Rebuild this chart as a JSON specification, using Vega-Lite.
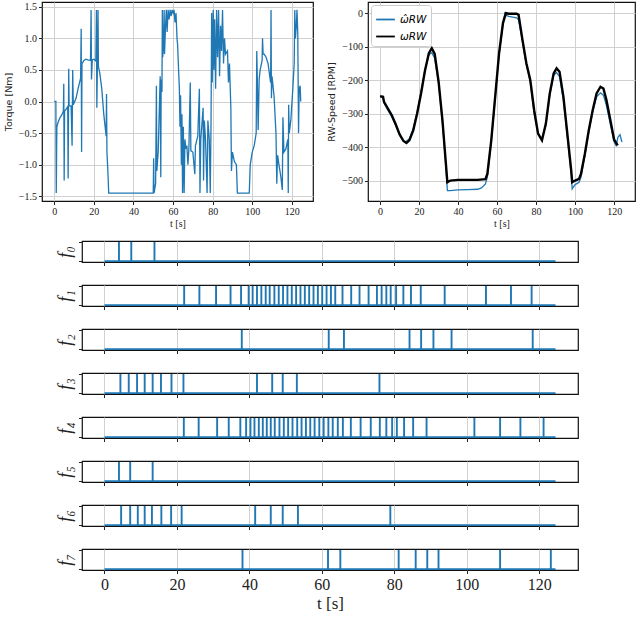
{
  "$schema": "https://vega.github.io/schema/vega-lite/v6.json",
  "padding": {"left": 2, "top": 1, "right": 1, "bottom": 2},
  "background": "white",
  "datasets": {
    "torque": [
      {"t":0,"v":0},{"t":0.8,"v":0},{"t":1.0,"v":-1.45},{"t":1.3,"v":-0.4},{"t":2,"v":-0.32},{"t":3,"v":-0.25},{"t":4,"v":-0.2},{"t":4.6,"v":-0.15},{"t":4.8,"v":0.28},{"t":5.0,"v":-1.25},{"t":5.2,"v":-0.15},{"t":6,"v":-0.12},{"t":6.8,"v":-0.08},{"t":7.0,"v":-1.22},{"t":7.3,"v":0.52},{"t":7.5,"v":-0.07},{"t":8.5,"v":-0.07},{"t":9.0,"v":-0.7},{"t":9.3,"v":0.5},{"t":9.6,"v":-0.05},{"t":11,"v":0.05},{"t":12,"v":0.2},{"t":13.3,"v":0.37},{"t":13.6,"v":1.15},{"t":13.8,"v":-0.8},{"t":14.0,"v":0.6},{"t":15,"v":0.65},{"t":16,"v":0.67},{"t":17,"v":0.66},{"t":18.3,"v":0.65},{"t":18.6,"v":1.45},{"t":18.8,"v":0.35},{"t":19.2,"v":0.66},{"t":20,"v":0.67},{"t":21,"v":0.64},{"t":21.3,"v":1.45},{"t":21.5,"v":-0.1},{"t":21.8,"v":0.6},{"t":22.1,"v":1.45},{"t":22.3,"v":0.55},{"t":23,"v":0.45},{"t":24,"v":0.2},{"t":25,"v":-0.2},{"t":26.2,"v":-0.55},{"t":26.4,"v":0.12},{"t":26.6,"v":-0.8},{"t":27.0,"v":-1.05},{"t":27.5,"v":-1.45},{"t":50.0,"v":-1.45},{"t":50.2,"v":-0.9},{"t":50.4,"v":-1.45},{"t":51.2,"v":-1.3},{"t":51.6,"v":0.25},{"t":51.8,"v":-1.1},{"t":52.5,"v":-0.8},{"t":53.0,"v":-0.2},{"t":53.5,"v":0.4},{"t":53.8,"v":-1.2},{"t":54.0,"v":0.35},{"t":54.4,"v":0.15},{"t":54.6,"v":1.45},{"t":54.8,"v":0.7},{"t":55.2,"v":0.9},{"t":55.5,"v":1.45},{"t":55.7,"v":0.75},{"t":56.2,"v":1.2},{"t":56.6,"v":1.45},{"t":57,"v":1.1},{"t":57.5,"v":1.45},{"t":58,"v":1.3},{"t":58.5,"v":1.45},{"t":59,"v":1.35},{"t":59.5,"v":1.45},{"t":60,"v":1.4},{"t":60.5,"v":1.45},{"t":61,"v":1.25},{"t":61.5,"v":1.4},{"t":62,"v":1.0},{"t":62.3,"v":0.9},{"t":62.8,"v":0.5},{"t":63.2,"v":0.2},{"t":63.5,"v":-0.4},{"t":63.8,"v":0.1},{"t":64.2,"v":-1.0},{"t":64.5,"v":-0.2},{"t":64.8,"v":-1.45},{"t":65.2,"v":-0.4},{"t":65.6,"v":-1.45},{"t":66.0,"v":-0.6},{"t":66.5,"v":-0.75},{"t":67,"v":-0.7},{"t":67.5,"v":-1.0},{"t":68,"v":-0.75},{"t":68.7,"v":0.3},{"t":69,"v":-0.78},{"t":70,"v":-0.8},{"t":71,"v":-1.15},{"t":71.3,"v":-0.7},{"t":72.5,"v":-0.55},{"t":73.3,"v":0.2},{"t":73.6,"v":-1.45},{"t":74,"v":-0.6},{"t":75.2,"v":-0.1},{"t":75.4,"v":-1.25},{"t":75.8,"v":-0.3},{"t":76.4,"v":-0.6},{"t":77.2,"v":-1.45},{"t":77.6,"v":-0.3},{"t":78.3,"v":-0.6},{"t":78.8,"v":-1.45},{"t":79.2,"v":-0.3},{"t":79.5,"v":1.4},{"t":79.8,"v":0.3},{"t":80.3,"v":1.45},{"t":80.6,"v":0.5},{"t":81,"v":1.3},{"t":81.5,"v":0.2},{"t":82,"v":1.45},{"t":82.5,"v":0.7},{"t":83,"v":1.45},{"t":83.5,"v":0.4},{"t":84,"v":1.2},{"t":84.5,"v":0.8},{"t":85,"v":1.45},{"t":85.5,"v":0.6},{"t":86,"v":1.0},{"t":86.5,"v":0.75},{"t":87.5,"v":0.8},{"t":88,"v":0.3},{"t":88.5,"v":0.6},{"t":89.2,"v":-0.1},{"t":89.5,"v":-1.1},{"t":90,"v":-0.8},{"t":91,"v":-0.95},{"t":92,"v":-1.0},{"t":92.5,"v":-1.45},{"t":98.5,"v":-1.45},{"t":99,"v":-1.0},{"t":100,"v":-0.8},{"t":101,"v":-0.7},{"t":102,"v":-0.5},{"t":102.3,"v":0.8},{"t":102.6,"v":0.3},{"t":103,"v":-0.45},{"t":103.5,"v":0.35},{"t":104,"v":0.5},{"t":105,"v":0.65},{"t":105.2,"v":1.0},{"t":105.5,"v":0.75},{"t":106,"v":0.75},{"t":107,"v":0.7},{"t":108,"v":0.6},{"t":109.3,"v":0.3},{"t":109.5,"v":1.45},{"t":109.7,"v":0.05},{"t":110,"v":0.4},{"t":111,"v":0.1},{"t":112,"v":-0.5},{"t":112.4,"v":-1.3},{"t":112.8,"v":-0.85},{"t":113.5,"v":-1.0},{"t":114.5,"v":-1.2},{"t":115.2,"v":-1.4},{"t":115.5,"v":-0.25},{"t":116,"v":-0.8},{"t":117,"v":-0.75},{"t":118,"v":-0.6},{"t":118.2,"v":-1.45},{"t":118.4,"v":-0.05},{"t":118.7,"v":-0.5},{"t":119.5,"v":-0.3},{"t":120.5,"v":0.2},{"t":121.2,"v":0.6},{"t":121.5,"v":1.45},{"t":121.8,"v":1.0},{"t":122.3,"v":1.2},{"t":122.6,"v":1.45},{"t":123,"v":1.1},{"t":123.4,"v":-0.5},{"t":123.7,"v":0.2},{"t":124.2,"v":0.25},{"t":124.5,"v":0.0}
    ],
    "speed": [
      {"s":"ω̂RW","t":0,"v":-250},{"s":"ω̂RW","t":1.5,"v":-252},{"s":"ω̂RW","t":2,"v":-268},{"s":"ω̂RW","t":4,"v":-290},{"s":"ω̂RW","t":6,"v":-310},{"s":"ω̂RW","t":8,"v":-335},{"s":"ω̂RW","t":10,"v":-365},{"s":"ω̂RW","t":12,"v":-382},{"s":"ω̂RW","t":13,"v":-385},{"s":"ω̂RW","t":15,"v":-375},{"s":"ω̂RW","t":17,"v":-345},{"s":"ω̂RW","t":19,"v":-295},{"s":"ω̂RW","t":21,"v":-235},{"s":"ω̂RW","t":23,"v":-170},{"s":"ω̂RW","t":25,"v":-125},{"s":"ω̂RW","t":26.5,"v":-118},{"s":"ω̂RW","t":28,"v":-135},{"s":"ω̂RW","t":30,"v":-210},{"s":"ω̂RW","t":32,"v":-330},{"s":"ω̂RW","t":33.5,"v":-440},{"s":"ω̂RW","t":34.5,"v":-530},{"s":"ω̂RW","t":36,"v":-530},{"s":"ω̂RW","t":40,"v":-528},{"s":"ω̂RW","t":45,"v":-527},{"s":"ω̂RW","t":50,"v":-526},{"s":"ω̂RW","t":52,"v":-522},{"s":"ω̂RW","t":54,"v":-510},{"s":"ω̂RW","t":55,"v":-490},{"s":"ω̂RW","t":57,"v":-385},{"s":"ω̂RW","t":59,"v":-255},{"s":"ω̂RW","t":61,"v":-125},{"s":"ω̂RW","t":63,"v":-35},{"s":"ω̂RW","t":64,"v":0},{"s":"ω̂RW","t":65,"v":-8},{"s":"ω̂RW","t":66,"v":-10},{"s":"ω̂RW","t":68,"v":-12},{"s":"ω̂RW","t":70,"v":-14},{"s":"ω̂RW","t":71,"v":-20},{"s":"ω̂RW","t":73,"v":-85},{"s":"ω̂RW","t":75,"v":-155},{"s":"ω̂RW","t":77,"v":-205},{"s":"ω̂RW","t":79,"v":-300},{"s":"ω̂RW","t":81,"v":-362},{"s":"ω̂RW","t":82,"v":-368},{"s":"ω̂RW","t":83,"v":-375},{"s":"ω̂RW","t":85,"v":-335},{"s":"ω̂RW","t":87,"v":-245},{"s":"ω̂RW","t":89,"v":-185},{"s":"ω̂RW","t":90.5,"v":-178},{"s":"ω̂RW","t":92,"v":-190},{"s":"ω̂RW","t":94,"v":-260},{"s":"ω̂RW","t":96,"v":-370},{"s":"ω̂RW","t":98,"v":-480},{"s":"ω̂RW","t":98.5,"v":-525},{"s":"ω̂RW","t":99,"v":-520},{"s":"ω̂RW","t":100,"v":-512},{"s":"ω̂RW","t":102,"v":-505},{"s":"ω̂RW","t":103,"v":-490},{"s":"ω̂RW","t":105,"v":-425},{"s":"ω̂RW","t":107,"v":-355},{"s":"ω̂RW","t":109,"v":-295},{"s":"ω̂RW","t":111,"v":-250},{"s":"ω̂RW","t":113,"v":-238},{"s":"ω̂RW","t":114.5,"v":-245},{"s":"ω̂RW","t":116,"v":-275},{"s":"ω̂RW","t":118,"v":-330},{"s":"ω̂RW","t":120,"v":-385},{"s":"ω̂RW","t":121,"v":-395},{"s":"ω̂RW","t":122,"v":-370},{"s":"ω̂RW","t":123,"v":-363},{"s":"ω̂RW","t":124,"v":-385},
      {"s":"ωRW","t":0,"v":-248},{"s":"ωRW","t":1.5,"v":-250},{"s":"ωRW","t":2,"v":-265},{"s":"ωRW","t":4,"v":-285},{"s":"ωRW","t":6,"v":-305},{"s":"ωRW","t":8,"v":-332},{"s":"ωRW","t":10,"v":-362},{"s":"ωRW","t":12,"v":-382},{"s":"ωRW","t":13.5,"v":-388},{"s":"ωRW","t":15,"v":-380},{"s":"ωRW","t":17,"v":-350},{"s":"ωRW","t":19,"v":-300},{"s":"ωRW","t":21,"v":-240},{"s":"ωRW","t":23,"v":-172},{"s":"ωRW","t":25,"v":-120},{"s":"ωRW","t":26.5,"v":-105},{"s":"ωRW","t":28,"v":-122},{"s":"ωRW","t":30,"v":-205},{"s":"ωRW","t":32,"v":-322},{"s":"ωRW","t":33.5,"v":-432},{"s":"ωRW","t":34.5,"v":-505},{"s":"ωRW","t":36,"v":-500},{"s":"ωRW","t":40,"v":-498},{"s":"ωRW","t":45,"v":-498},{"s":"ωRW","t":50,"v":-498},{"s":"ωRW","t":54,"v":-496},{"s":"ωRW","t":55,"v":-480},{"s":"ωRW","t":57,"v":-380},{"s":"ωRW","t":59,"v":-250},{"s":"ωRW","t":61,"v":-120},{"s":"ωRW","t":63,"v":-30},{"s":"ωRW","t":64.5,"v":0},{"s":"ωRW","t":66,"v":-2},{"s":"ωRW","t":70,"v":-2},{"s":"ωRW","t":71,"v":-5},{"s":"ωRW","t":73,"v":-80},{"s":"ωRW","t":75,"v":-150},{"s":"ωRW","t":77,"v":-200},{"s":"ωRW","t":79,"v":-290},{"s":"ωRW","t":81,"v":-360},{"s":"ωRW","t":83,"v":-380},{"s":"ωRW","t":85,"v":-330},{"s":"ωRW","t":87,"v":-240},{"s":"ωRW","t":89,"v":-180},{"s":"ωRW","t":90.5,"v":-165},{"s":"ωRW","t":92,"v":-175},{"s":"ωRW","t":94,"v":-250},{"s":"ωRW","t":96,"v":-360},{"s":"ωRW","t":98,"v":-470},{"s":"ωRW","t":98.5,"v":-505},{"s":"ωRW","t":100,"v":-500},{"s":"ωRW","t":102,"v":-495},{"s":"ωRW","t":103,"v":-480},{"s":"ωRW","t":105,"v":-420},{"s":"ωRW","t":107,"v":-350},{"s":"ωRW","t":109,"v":-290},{"s":"ωRW","t":111,"v":-240},{"s":"ωRW","t":113,"v":-220},{"s":"ωRW","t":114.5,"v":-225},{"s":"ωRW","t":116,"v":-258},{"s":"ωRW","t":118,"v":-318},{"s":"ωRW","t":120,"v":-378},{"s":"ωRW","t":121.5,"v":-392},{"s":"ωRW","t":122,"v":-390}
    ],
    "span": [{"t0":0,"t1":124.5}],
    "spikes": [
      {"f":"f0","t":4.0},{"f":"f0","t":7.4},{"f":"f0","t":13.8},
      {"f":"f1","t":22.0},{"f":"f1","t":26.2},{"f":"f1","t":30.8},{"f":"f1","t":34.8},{"f":"f1","t":37.7},{"f":"f1","t":39.8},{"f":"f1","t":40.9},{"f":"f1","t":42.1},{"f":"f1","t":43.3},{"f":"f1","t":44.5},{"f":"f1","t":45.6},{"f":"f1","t":46.9},{"f":"f1","t":48.1},{"f":"f1","t":49.3},{"f":"f1","t":50.5},{"f":"f1","t":51.7},{"f":"f1","t":52.9},{"f":"f1","t":54.1},{"f":"f1","t":55.3},{"f":"f1","t":56.5},{"f":"f1","t":57.7},{"f":"f1","t":58.9},{"f":"f1","t":60.1},{"f":"f1","t":61.3},{"f":"f1","t":62.5},{"f":"f1","t":63.7},{"f":"f1","t":65.7},{"f":"f1","t":68.1},{"f":"f1","t":70.4},{"f":"f1","t":72.9},{"f":"f1","t":75.2},{"f":"f1","t":76.5},{"f":"f1","t":77.8},{"f":"f1","t":79.0},{"f":"f1","t":80.5},{"f":"f1","t":82.5},{"f":"f1","t":84.6},{"f":"f1","t":87.3},{"f":"f1","t":93.9},{"f":"f1","t":105.3},{"f":"f1","t":112.2},{"f":"f1","t":117.9},
      {"f":"f2","t":37.9},{"f":"f2","t":61.9},{"f":"f2","t":66.1},{"f":"f2","t":84.2},{"f":"f2","t":87.4},{"f":"f2","t":90.8},{"f":"f2","t":95.8},{"f":"f2","t":118.2},
      {"f":"f3","t":4.4},{"f":"f3","t":6.7},{"f":"f3","t":9.0},{"f":"f3","t":11.1},{"f":"f3","t":13.3},{"f":"f3","t":15.6},{"f":"f3","t":18.5},{"f":"f3","t":21.8},{"f":"f3","t":42.1},{"f":"f3","t":46.3},{"f":"f3","t":49.2},{"f":"f3","t":53.1},{"f":"f3","t":75.9},
      {"f":"f4","t":21.9},{"f":"f4","t":26.0},{"f":"f4","t":31.1},{"f":"f4","t":34.3},{"f":"f4","t":37.5},{"f":"f4","t":39.1},{"f":"f4","t":40.3},{"f":"f4","t":41.4},{"f":"f4","t":42.6},{"f":"f4","t":43.7},{"f":"f4","t":44.8},{"f":"f4","t":45.9},{"f":"f4","t":47.0},{"f":"f4","t":48.3},{"f":"f4","t":49.5},{"f":"f4","t":50.7},{"f":"f4","t":51.9},{"f":"f4","t":53.2},{"f":"f4","t":54.4},{"f":"f4","t":55.6},{"f":"f4","t":56.8},{"f":"f4","t":58.0},{"f":"f4","t":59.3},{"f":"f4","t":60.5},{"f":"f4","t":61.8},{"f":"f4","t":63.0},{"f":"f4","t":64.4},{"f":"f4","t":65.8},{"f":"f4","t":68.0},{"f":"f4","t":70.7},{"f":"f4","t":73.5},{"f":"f4","t":76.0},{"f":"f4","t":77.8},{"f":"f4","t":79.4},{"f":"f4","t":80.7},{"f":"f4","t":82.7},{"f":"f4","t":85.2},{"f":"f4","t":88.9},{"f":"f4","t":102.1},{"f":"f4","t":109.2},{"f":"f4","t":114.8},{"f":"f4","t":121.2},
      {"f":"f5","t":4.0},{"f":"f5","t":7.1},{"f":"f5","t":13.3},
      {"f":"f6","t":4.6},{"f":"f6","t":7.1},{"f":"f6","t":9.2},{"f":"f6","t":11.1},{"f":"f6","t":13.1},{"f":"f6","t":15.7},{"f":"f6","t":18.4},{"f":"f6","t":21.3},{"f":"f6","t":41.6},{"f":"f6","t":45.9},{"f":"f6","t":49.2},{"f":"f6","t":53.4},{"f":"f6","t":78.9},
      {"f":"f7","t":38.1},{"f":"f7","t":61.7},{"f":"f7","t":65.1},{"f":"f7","t":81.2},{"f":"f7","t":85.9},{"f":"f7","t":89.1},{"f":"f7","t":92.2},{"f":"f7","t":109.2},{"f":"f7","t":123.2}
    ]
  },
  "config": {
    "font": "Liberation Serif",
    "view": {"stroke": "#111", "strokeWidth": 1.2},
    "axis": {"domain": false, "gridColor": "#d0d0d0", "gridWidth": 1, "tickColor": "#222", "tickSize": 3.5, "labelColor": "#222", "titleColor": "#222", "titleFontWeight": "normal", "labelPadding": 2, "labelOverlap": false}
  },
  "vconcat": [
    {
      "resolve": {"scale": {"color": "independent"}, "legend": {"color": "independent"}},
      "hconcat": [
        {
          "width": 271, "height": 199,
          "data": {"name": "torque"},
          "mark": {"type": "line", "color": "#1f77b4", "strokeWidth": 1.3, "clip": true},
          "encoding": {
            "x": {"field": "t", "type": "quantitative", "scale": {"domain": [-6.2, 130.7], "nice": false, "zero": false},
                  "axis": {"values": [0,20,40,60,80,100,120], "title": "t [s]", "labelFontSize": 10, "titleFontSize": 10, "titlePadding": 2, "labelFlush": false}},
            "y": {"field": "v", "type": "quantitative", "scale": {"domain": [-1.575, 1.575], "nice": false, "zero": false},
                  "axis": {"values": [-1.5,-1,-0.5,0,0.5,1,1.5], "format": ".1f", "title": "Torque [Nm]", "titleFont": "DejaVu Sans", "labelFontSize": 10, "titleFontSize": 9.5, "titlePadding": 5}}
          }
        },
        {
          "width": 267, "height": 199,
          "data": {"name": "speed"},
          "encoding": {
            "x": {"field": "t", "type": "quantitative", "scale": {"domain": [-6.2, 130.7], "nice": false, "zero": false},
                  "axis": {"values": [0,20,40,60,80,100,120], "title": "t [s]", "labelFontSize": 10, "titleFontSize": 10, "titlePadding": 2, "labelFlush": false}},
            "y": {"field": "v", "type": "quantitative", "scale": {"domain": [-561, 33], "nice": false, "zero": false},
                  "axis": {"values": [-500,-400,-300,-200,-100,0], "title": "RW-Speed [RPM]", "titleFont": "DejaVu Sans", "labelFontSize": 10, "titleFontSize": 9.5, "titlePadding": 5}},
            "color": {"field": "s", "type": "nominal", "scale": {"domain": ["ω̂RW", "ωRW"], "range": ["#1f77b4", "#000000"]},
                      "legend": {"orient": "top-left", "offset": 3, "title": null, "strokeColor": "#cccccc", "fillColor": "white", "padding": 4, "cornerRadius": 3, "symbolType": "stroke", "symbolSize": 350, "symbolStrokeWidth": 1.8, "labelFont": "DejaVu Sans", "labelFontStyle": "italic", "labelFontSize": 10.5, "rowPadding": 1}}
          },
          "layer": [
            {
              "transform": [{"filter": "datum.s == 'ω̂RW'"}],
              "mark": {"type": "line", "strokeWidth": 1.3, "clip": true}
            },
            {
              "transform": [{"filter": "datum.s == 'ωRW'"}],
              "mark": {"type": "line", "strokeWidth": 2.4, "clip": true}
            }
          ]
        }
      ],
      "spacing": 12
    },
    {
      "spacing": 0,
      "hconcat": [
        {"width": 13, "height": 10, "view": {"stroke": null}, "data": {"values": [{}]}, "mark": {"type": "point", "opacity": 0}},
        {
          "bounds": "flush",
          "spacing": 23,
          "vconcat": [
            {"width": 496, "height": 21, "layer": [
              {"data": {"name": "span"}, "mark": {"type": "rule", "color": "#1f77b4", "strokeWidth": 1.8},
               "encoding": {"x": {"field": "t0", "type": "quantitative", "scale": {"domain": [-6.2, 130.7], "nice": false, "zero": false}, "axis": {"values": [0,20,40,60,80,100,120], "labels": false, "title": null}},
                            "x2": {"field": "t1"},
                            "y": {"datum": 0, "type": "quantitative", "scale": {"domain": [-0.05, 1.05], "nice": false}, "axis": {"values": [0,1], "labels": false, "title": "f₀", "titleFontSize": 18, "titleFontStyle": "italic", "titlePadding": 4}}}},
              {"data": {"name": "spikes"}, "transform": [{"filter": "datum.f == 'f0'"}], "mark": {"type": "rule", "color": "#1f77b4", "strokeWidth": 1.9},
               "encoding": {"x": {"field": "t", "type": "quantitative"}, "y": {"datum": 0, "type": "quantitative"}, "y2": {"datum": 1}}}
            ]},
            {"width": 496, "height": 21, "layer": [
              {"data": {"name": "span"}, "mark": {"type": "rule", "color": "#1f77b4", "strokeWidth": 1.8},
               "encoding": {"x": {"field": "t0", "type": "quantitative", "scale": {"domain": [-6.2, 130.7], "nice": false, "zero": false}, "axis": {"values": [0,20,40,60,80,100,120], "labels": false, "title": null}},
                            "x2": {"field": "t1"},
                            "y": {"datum": 0, "type": "quantitative", "scale": {"domain": [-0.05, 1.05], "nice": false}, "axis": {"values": [0,1], "labels": false, "title": "f₁", "titleFontSize": 18, "titleFontStyle": "italic", "titlePadding": 4}}}},
              {"data": {"name": "spikes"}, "transform": [{"filter": "datum.f == 'f1'"}], "mark": {"type": "rule", "color": "#1f77b4", "strokeWidth": 1.9},
               "encoding": {"x": {"field": "t", "type": "quantitative"}, "y": {"datum": 0, "type": "quantitative"}, "y2": {"datum": 1}}}
            ]},
            {"width": 496, "height": 21, "layer": [
              {"data": {"name": "span"}, "mark": {"type": "rule", "color": "#1f77b4", "strokeWidth": 1.8},
               "encoding": {"x": {"field": "t0", "type": "quantitative", "scale": {"domain": [-6.2, 130.7], "nice": false, "zero": false}, "axis": {"values": [0,20,40,60,80,100,120], "labels": false, "title": null}},
                            "x2": {"field": "t1"},
                            "y": {"datum": 0, "type": "quantitative", "scale": {"domain": [-0.05, 1.05], "nice": false}, "axis": {"values": [0,1], "labels": false, "title": "f₂", "titleFontSize": 18, "titleFontStyle": "italic", "titlePadding": 4}}}},
              {"data": {"name": "spikes"}, "transform": [{"filter": "datum.f == 'f2'"}], "mark": {"type": "rule", "color": "#1f77b4", "strokeWidth": 1.9},
               "encoding": {"x": {"field": "t", "type": "quantitative"}, "y": {"datum": 0, "type": "quantitative"}, "y2": {"datum": 1}}}
            ]},
            {"width": 496, "height": 21, "layer": [
              {"data": {"name": "span"}, "mark": {"type": "rule", "color": "#1f77b4", "strokeWidth": 1.8},
               "encoding": {"x": {"field": "t0", "type": "quantitative", "scale": {"domain": [-6.2, 130.7], "nice": false, "zero": false}, "axis": {"values": [0,20,40,60,80,100,120], "labels": false, "title": null}},
                            "x2": {"field": "t1"},
                            "y": {"datum": 0, "type": "quantitative", "scale": {"domain": [-0.05, 1.05], "nice": false}, "axis": {"values": [0,1], "labels": false, "title": "f₃", "titleFontSize": 18, "titleFontStyle": "italic", "titlePadding": 4}}}},
              {"data": {"name": "spikes"}, "transform": [{"filter": "datum.f == 'f3'"}], "mark": {"type": "rule", "color": "#1f77b4", "strokeWidth": 1.9},
               "encoding": {"x": {"field": "t", "type": "quantitative"}, "y": {"datum": 0, "type": "quantitative"}, "y2": {"datum": 1}}}
            ]},
            {"width": 496, "height": 21, "layer": [
              {"data": {"name": "span"}, "mark": {"type": "rule", "color": "#1f77b4", "strokeWidth": 1.8},
               "encoding": {"x": {"field": "t0", "type": "quantitative", "scale": {"domain": [-6.2, 130.7], "nice": false, "zero": false}, "axis": {"values": [0,20,40,60,80,100,120], "labels": false, "title": null}},
                            "x2": {"field": "t1"},
                            "y": {"datum": 0, "type": "quantitative", "scale": {"domain": [-0.05, 1.05], "nice": false}, "axis": {"values": [0,1], "labels": false, "title": "f₄", "titleFontSize": 18, "titleFontStyle": "italic", "titlePadding": 4}}}},
              {"data": {"name": "spikes"}, "transform": [{"filter": "datum.f == 'f4'"}], "mark": {"type": "rule", "color": "#1f77b4", "strokeWidth": 1.9},
               "encoding": {"x": {"field": "t", "type": "quantitative"}, "y": {"datum": 0, "type": "quantitative"}, "y2": {"datum": 1}}}
            ]},
            {"width": 496, "height": 21, "layer": [
              {"data": {"name": "span"}, "mark": {"type": "rule", "color": "#1f77b4", "strokeWidth": 1.8},
               "encoding": {"x": {"field": "t0", "type": "quantitative", "scale": {"domain": [-6.2, 130.7], "nice": false, "zero": false}, "axis": {"values": [0,20,40,60,80,100,120], "labels": false, "title": null}},
                            "x2": {"field": "t1"},
                            "y": {"datum": 0, "type": "quantitative", "scale": {"domain": [-0.05, 1.05], "nice": false}, "axis": {"values": [0,1], "labels": false, "title": "f₅", "titleFontSize": 18, "titleFontStyle": "italic", "titlePadding": 4}}}},
              {"data": {"name": "spikes"}, "transform": [{"filter": "datum.f == 'f5'"}], "mark": {"type": "rule", "color": "#1f77b4", "strokeWidth": 1.9},
               "encoding": {"x": {"field": "t", "type": "quantitative"}, "y": {"datum": 0, "type": "quantitative"}, "y2": {"datum": 1}}}
            ]},
            {"width": 496, "height": 21, "layer": [
              {"data": {"name": "span"}, "mark": {"type": "rule", "color": "#1f77b4", "strokeWidth": 1.8},
               "encoding": {"x": {"field": "t0", "type": "quantitative", "scale": {"domain": [-6.2, 130.7], "nice": false, "zero": false}, "axis": {"values": [0,20,40,60,80,100,120], "labels": false, "title": null}},
                            "x2": {"field": "t1"},
                            "y": {"datum": 0, "type": "quantitative", "scale": {"domain": [-0.05, 1.05], "nice": false}, "axis": {"values": [0,1], "labels": false, "title": "f₆", "titleFontSize": 18, "titleFontStyle": "italic", "titlePadding": 4}}}},
              {"data": {"name": "spikes"}, "transform": [{"filter": "datum.f == 'f6'"}], "mark": {"type": "rule", "color": "#1f77b4", "strokeWidth": 1.9},
               "encoding": {"x": {"field": "t", "type": "quantitative"}, "y": {"datum": 0, "type": "quantitative"}, "y2": {"datum": 1}}}
            ]},
            {"width": 496, "height": 21, "layer": [
              {"data": {"name": "span"}, "mark": {"type": "rule", "color": "#1f77b4", "strokeWidth": 1.8},
               "encoding": {"x": {"field": "t0", "type": "quantitative", "scale": {"domain": [-6.2, 130.7], "nice": false, "zero": false}, "axis": {"values": [0,20,40,60,80,100,120], "title": "t [s]", "labelFontSize": 16, "titleFontSize": 17, "labelPadding": 3, "titlePadding": 3, "labelFlush": false}},
                            "x2": {"field": "t1"},
                            "y": {"datum": 0, "type": "quantitative", "scale": {"domain": [-0.05, 1.05], "nice": false}, "axis": {"values": [0,1], "labels": false, "title": "f₇", "titleFontSize": 18, "titleFontStyle": "italic", "titlePadding": 4}}}},
              {"data": {"name": "spikes"}, "transform": [{"filter": "datum.f == 'f7'"}], "mark": {"type": "rule", "color": "#1f77b4", "strokeWidth": 1.9},
               "encoding": {"x": {"field": "t", "type": "quantitative"}, "y": {"datum": 0, "type": "quantitative"}, "y2": {"datum": 1}}}
            ]}
          ]
        }
      ]
    }
  ],
  "spacing": 10
}
